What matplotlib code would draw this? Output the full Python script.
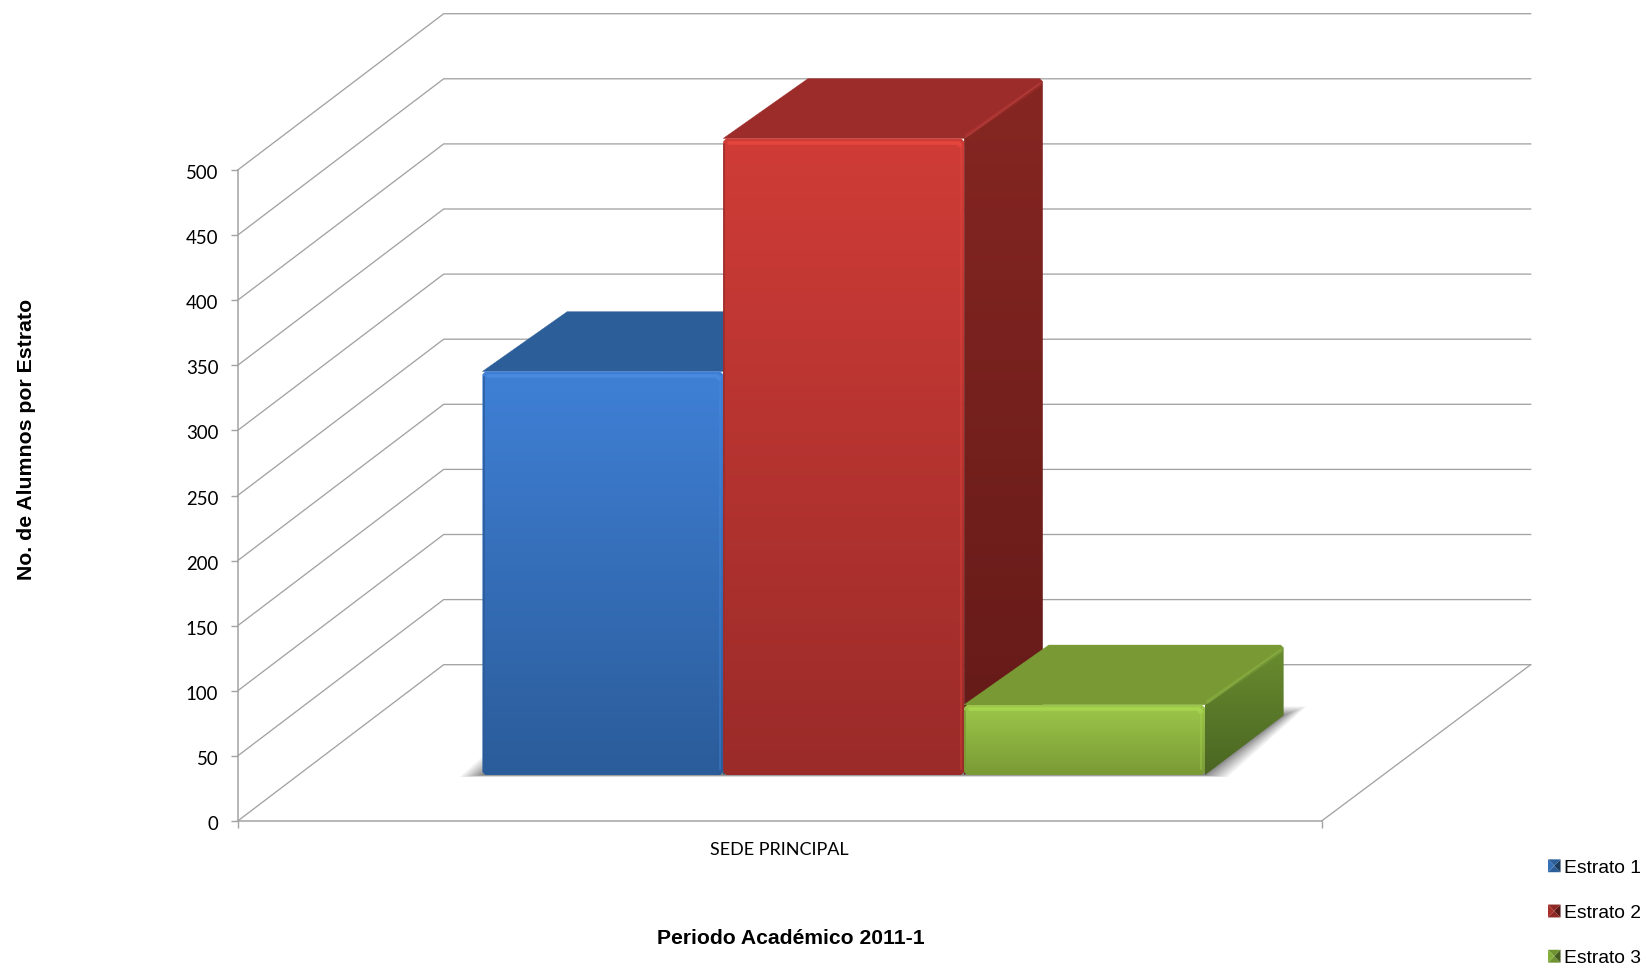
import numpy as np
import matplotlib
matplotlib.use("Agg")
import matplotlib.pyplot as plt
from matplotlib.colors import LinearSegmentedColormap, to_rgb
from matplotlib.legend_handler import HandlerBase
from matplotlib.patches import Patch, Polygon
from matplotlib.transforms import ScaledTranslation

# Data
categories = ["SEDE PRINCIPAL"]
series_names = ["Estrato 1", "Estrato 2", "Estrato 3"]
series_values = [310, 489, 54]
y_ticks = [0, 50, 100, 150, 200, 250, 300, 350, 400, 450, 500]

W, H = 1646, 968
LEFT, RIGHT, BASE, TOP = 237.7, 1321.6, 821, 170
GRID = "#a3a3a3"
SANS = "Liberation Sans"

# oblique depth of the box, in axis units
DEPTH_X = 206 / (RIGHT - LEFT)
DEPTH_Y = 156.3 / ((BASE - TOP) / 500)
BAR_FRONT, BAR_BACK = 0.294, 0.676
BAR_W = 0.2222
BACK_RIGHT = 1.0028
PX_X = 1 / (RIGHT - LEFT)
PX_Y = 500 / (BASE - TOP)

# front top, front bottom, roof, side top, side bottom, highlight
shades = [
    ("#3f80d6", "#2b5c9a", "#2c5f9a", "#2a5a92", "#234c7c", "#4a8ce2"),
    ("#d03c37", "#9a2b29", "#9c2c2a", "#862622", "#631a18", "#e8473f"),
    ("#9cc84a", "#7a9a35", "#789933", "#6a8c2f", "#4a6622", "#aad850"),
]


def proj(x, v, d):
    return x + d * DEPTH_X, v + d * DEPTH_Y


def gradient_face(ax, fig, pts, c_top, c_bottom):
    pts = np.array(pts)
    patch = Polygon(pts, closed=True, transform=ax.transData, fc="none", ec="none")
    ax.add_patch(patch)
    patch.set_clip_on(False)
    cmap = LinearSegmentedColormap.from_list("g", [c_top, c_bottom])
    grad = np.linspace(0, 1, 256).reshape(-1, 1)
    im = ax.imshow(grad, cmap=cmap, aspect="auto", origin="upper", zorder=3,
                   extent=(pts[:, 0].min(), pts[:, 0].max(), pts[:, 1].min(), pts[:, 1].max()))
    im.set_clip_box(fig.bbox)
    im.set_clip_path(patch)


def flat_face(ax, pts, color):
    ax.add_patch(Polygon(pts, closed=True, fc=color, ec=color, lw=0.3, zorder=3, clip_on=False))


def edge(ax, a, b, color, lw, alpha=1.0):
    ax.plot([a[0], b[0]], [a[1], b[1]], color=color, lw=lw, alpha=alpha, zorder=3,
            clip_on=False, solid_capstyle="round")


def draw_shadow(ax, x0, x1):
    # soft footprint, a little wider than the bars
    fl = proj(x0, 0, BAR_FRONT)
    fr = proj(x1, 0, BAR_FRONT)
    br = proj(x1, 0, BAR_BACK)
    bl = proj(x0, 0, BAR_BACK)
    for s in np.linspace(1, 0.1, 22) ** 1.6:
        sx = 23 * PX_X * s
        up = 9 * PX_Y * s
        pts = [(fl[0] - sx, fl[1] - 2 * PX_Y * s), (fr[0] + sx, fr[1] - 2 * PX_Y * s),
               (br[0] + sx, br[1] + up), (bl[0] - sx, bl[1] + up)]
        ax.add_patch(Polygon(pts, closed=True, fc="#404040", ec="none", alpha=0.04,
                             zorder=2, clip_on=False))


def draw_bar(ax, fig, x0, v, colors):
    c_ft, c_fb, c_roof, c_st, c_sb, c_hi = colors
    x1 = x0 + BAR_W
    cx, cy = 3 * PX_X, 3 * PX_Y  # small rounded corners

    fl = proj(x0, 0, BAR_FRONT)
    fr = proj(x1, 0, BAR_FRONT)
    tl = proj(x0, v, BAR_FRONT)
    tr = proj(x1, v, BAR_FRONT)
    tlb = proj(x0, v, BAR_BACK)
    trb = proj(x1, v, BAR_BACK)
    brb = proj(x1, 0, BAR_BACK)

    # side
    gradient_face(ax, fig, [fr, brb, (trb[0], trb[1] - cy), tr], c_st, c_sb)
    # roof
    flat_face(ax, [(tl[0], tl[1]), (tlb[0] + 2 * cx, tlb[1]), (trb[0] - cx, trb[1]),
                   (trb[0], trb[1] - cy), tr], c_roof)
    # front
    gradient_face(ax, fig, [(fl[0] + cx, fl[1]), (fr[0] - cx, fr[1]), (fr[0], fr[1] + cy),
                            (tr[0], tr[1] - cy), (tr[0] - cx, tr[1]), (tl[0] + cx, tl[1]),
                            (tl[0], tl[1] - cy), (fl[0], fl[1] + cy)], c_ft, c_fb)
    # bevels
    edge(ax, (tl[0] + 2 * cx, tl[1] - 1.5 * cy), (tr[0] - 2 * cx, tr[1] - 1.5 * cy), c_hi, 2.6, 0.85)
    edge(ax, (tr[0] - 1.2 * cx, tr[1] - 2 * cy), (fr[0] - 1.2 * cx, fr[1] + 2 * cy), c_hi, 1.5, 0.35)
    edge(ax, (tl[0] + 0.4 * cx, tl[1] - 2 * cy), (fl[0] + 0.4 * cx, fl[1] + 2 * cy), c_fb, 1.2, 0.9)
    edge(ax, (tr[0] + cx, tr[1] + cy), (trb[0] - cx, trb[1] - 2 * cy), c_hi, 3.0, 0.2)
    edge(ax, (tr[0] - 1.6 * cx, tr[1] - 2 * cy), (tr[0] - 1.5 * cx, tr[1] - 2.2 * cy), c_hi, 3.4, 0.8)


class PyramidHandler(HandlerBase):
    # little bevelled legend key
    def create_artists(self, legend, orig_handle, xdescent, ydescent, width, height, fontsize, trans):
        base = np.array(to_rgb(orig_handle.get_facecolor()))
        x0, y0 = -xdescent, -ydescent
        c = (x0 + width / 2, y0 + height / 2)
        a, b, d, e = (x0, y0), (x0 + width, y0), (x0 + width, y0 + height), (x0, y0 + height)
        arts = []
        for tri, f in [((a, b, c), 1.05), ((b, d, c), 0.65), ((d, e, c), 1.05), ((e, a, c), 1.25)]:
            arts.append(Polygon([*tri], closed=True, fc=np.clip(base * f, 0, 1), ec="none",
                                transform=trans))
        return arts


fig = plt.figure(figsize=(W / 100, H / 100), dpi=100)
ax = fig.add_axes([LEFT / W, 1 - BASE / H, (RIGHT - LEFT) / W, (BASE - TOP) / H])

# walls and floor lines
for v in y_ticks:
    p0, p1, p2 = proj(0, v, 0), proj(0, v, 1), proj(BACK_RIGHT, v, 1)
    ax.plot([p0[0], p1[0], p2[0]], [p0[1], p1[1], p2[1]], color=GRID, lw=0.95, zorder=1,
            clip_on=False, solid_joinstyle="miter")
p3, p4 = proj(1, 0, 0), proj(BACK_RIGHT, 0, 1)
ax.plot([p3[0], p4[0]], [p3[1], p4[1]], color=GRID, lw=0.95, zorder=1, clip_on=False)

# bars
n = len(series_values)
start = 0.5 - n * BAR_W / 2 + 0.0032
draw_shadow(ax, start, start + n * BAR_W)
for i, v in enumerate(series_values):
    draw_bar(ax, fig, start + i * BAR_W, v, shades[i])

ax.set_xlim(0, 1)
ax.set_ylim(0, 500)
ax.patch.set_alpha(0)
for s in ["top", "right"]:
    ax.spines[s].set_visible(False)
for s in ["left", "bottom"]:
    ax.spines[s].set_color(GRID)
    ax.spines[s].set_linewidth(1.1)

ax.set_yticks(y_ticks)
ax.set_yticklabels([str(t) for t in y_ticks], fontname="Lato", fontsize=13.4, color="black")
ax.set_xticks([0, 1])
ax.set_xticklabels(["", ""])
ax.set_xticks([0.5], labels=categories, minor=True)
ax.tick_params(axis="both", which="major", length=5, width=1, color=GRID)
ax.tick_params(axis="y", pad=9)
ax.tick_params(axis="x", which="minor", length=0, pad=15)
for lab in ax.get_yticklabels():
    lab.set_transform(lab.get_transform() + ScaledTranslation(0, -1.5 / 72, fig.dpi_scale_trans))
for lab in ax.get_xticklabels(minor=True):
    lab.set_fontname("Lato")
    lab.set_fontsize(13)

fig.text(27 / W, 1 - 439 / H, "No. de Alumnos por Estrato", rotation=90, ha="center", va="center",
         fontname=SANS, fontweight="bold", fontsize=15.3)
fig.text(790.5 / W, 1 - 938 / H, "Periodo Académico 2011-1", ha="center", va="center",
         fontname=SANS, fontweight="bold", fontsize=15.25)

handles = [Patch(facecolor=c[3]) for c in shades]
ax.legend(handles, series_names, handler_map={Patch: PyramidHandler()}, frameon=False,
          loc="lower left", bbox_to_anchor=(1548 / W, 1 - 967 / H), bbox_transform=fig.transFigure,
          prop={"family": SANS, "size": 13.9}, handlelength=0.65, handleheight=0.65,
          handletextpad=0.2, labelspacing=1.45, borderpad=0, borderaxespad=0)

fig.savefig("out.png", dpi=100)
